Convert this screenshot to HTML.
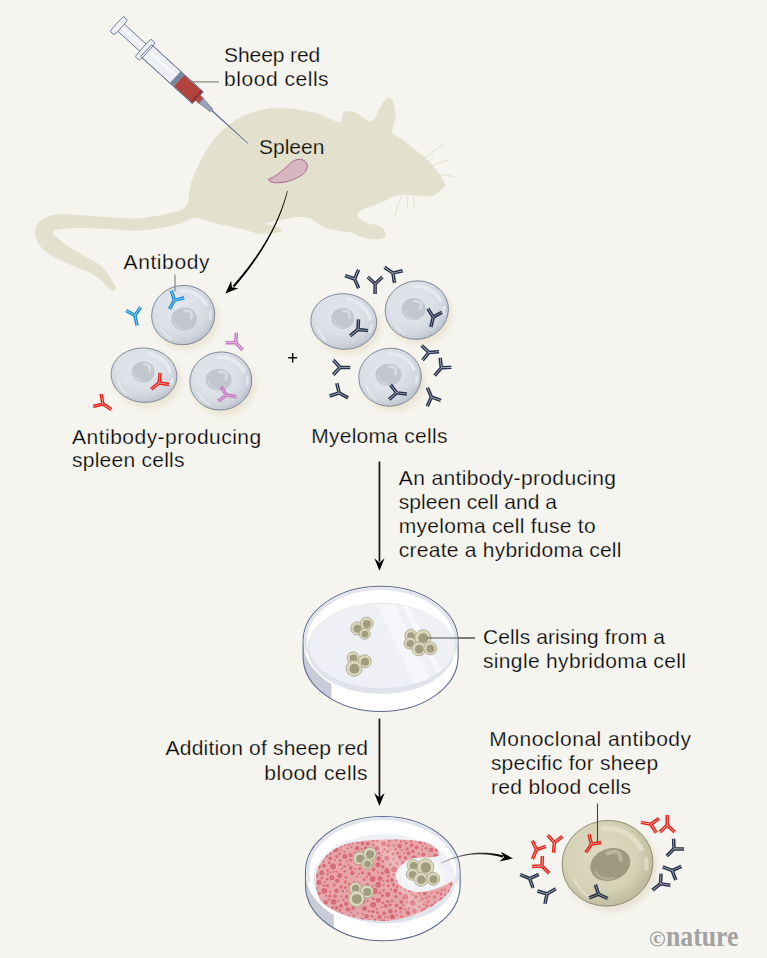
<!DOCTYPE html>
<html><head><meta charset="utf-8"><style>
html,body{margin:0;padding:0;background:#f5f4ee;}
body{width:767px;height:958px;overflow:hidden;}
svg{display:block;}
text{font-family:"Liberation Sans",sans-serif;fill:#000000;stroke:#f5f4ee;stroke-width:0.25px;}
</style></head><body>
<svg width="767" height="958" viewBox="0 0 767 958">
<defs>
<g id="ab" fill="none" stroke-width="1.5" stroke-linecap="butt"><path d="M-1.00,-0.30 L-1.00,10.20 M1.00,-0.30 L1.00,10.20 M0.32,-1.07 L-6.70,-7.62 M-1.05,0.39 L-8.07,-6.16 M1.05,0.39 L8.07,-6.16 M-0.32,-1.07 L6.70,-7.62"/></g>
<radialGradient id="cellg" cx="0.42" cy="0.38" r="0.62">
 <stop offset="0" stop-color="#e3e7ed"/>
 <stop offset="0.55" stop-color="#dce0e7"/>
 <stop offset="0.85" stop-color="#d0d5dd"/>
 <stop offset="1" stop-color="#bfc5cf"/>
</radialGradient>
<radialGradient id="olg" cx="0.45" cy="0.42" r="0.6">
 <stop offset="0" stop-color="#dedbc4"/>
 <stop offset="0.65" stop-color="#d6d2b6"/>
 <stop offset="1" stop-color="#bcb89b"/>
</radialGradient>
<linearGradient id="arrg" x1="0" y1="0" x2="1" y2="0">
 <stop offset="0" stop-color="#888"/>
 <stop offset="1" stop-color="#000"/>
</linearGradient>
<filter id="blur2" x="-30%" y="-30%" width="160%" height="160%"><feGaussianBlur stdDeviation="2.5"/></filter>
<filter id="soft" x="-20%" y="-20%" width="140%" height="140%"><feGaussianBlur stdDeviation="0.7"/></filter>
</defs>
<rect width="767" height="958" fill="#f5f4ee"/>

<path d="M186.8,205.0 C184.1,209.8 180.3,210.2 175.0,212.0 C169.7,213.8 161.7,214.9 155.0,216.0 C148.3,217.1 144.7,218.5 135.0,218.6 C125.3,218.7 109.0,217.2 96.7,216.5 C84.4,215.8 69.7,214.0 60.9,214.3 C52.1,214.7 47.8,216.7 43.7,218.6 C39.6,220.5 38.0,223.2 36.5,225.8 C35.0,228.4 34.9,231.9 35.0,234.4 C35.1,236.9 36.3,239.0 37.2,241.0 C38.1,243.0 38.5,244.4 40.5,246.5 C42.5,248.6 45.3,251.4 48.9,253.8 C52.5,256.2 57.6,258.8 62.2,261.0 C66.8,263.2 72.0,265.2 76.6,267.2 C81.2,269.1 86.0,270.7 89.9,272.7 C93.8,274.7 97.1,277.1 99.9,279.3 C102.7,281.5 104.7,284.3 106.5,286.0 C108.3,287.7 109.5,288.9 110.8,289.6 C112.0,290.3 113.2,290.7 114.0,290.2 C114.8,289.7 116.2,288.7 115.5,286.5 C114.8,284.3 111.8,280.1 109.8,277.1 C107.8,274.1 105.4,270.7 103.2,268.3 C101.0,265.9 99.3,264.6 96.5,262.7 C93.7,260.8 90.5,259.4 86.6,257.2 C82.7,255.0 77.4,252.0 73.3,249.4 C69.2,246.8 65.3,244.0 62.2,241.7 C59.1,239.4 56.0,237.1 54.5,235.5 C53.0,233.9 52.4,233.0 53.0,232.0 C53.6,231.0 54.3,230.1 58.0,229.4 C61.7,228.7 67.3,228.1 75.2,228.0 C83.1,227.9 95.3,228.2 105.3,228.7 C115.3,229.2 125.9,230.9 135.0,230.8 C144.1,230.7 152.5,229.2 160.0,228.0 C167.5,226.8 174.1,225.5 180.0,223.8 C185.9,222.1 189.7,218.0 195.3,217.9 C201.0,217.8 208.0,221.6 213.9,223.0 C219.8,224.4 225.7,225.3 230.8,226.4 C235.9,227.5 240.2,228.6 244.4,229.7 C248.7,230.8 252.9,232.4 256.3,233.1 C259.7,233.8 261.6,234.0 264.7,234.0 C267.8,234.0 272.1,233.7 274.9,233.1 C277.7,232.5 281.1,231.6 281.7,230.6 C282.3,229.6 280.9,228.3 278.3,227.2 C275.7,226.1 268.3,224.6 266.0,224.0 C263.7,223.4 262.1,224.3 264.7,223.6 C267.3,222.9 276.0,220.7 281.7,219.6 C287.4,218.5 293.8,217.2 298.6,217.0 C303.4,216.8 307.3,217.5 310.4,218.5 C313.5,219.5 314.4,221.4 317.0,223.0 C319.6,224.6 322.3,226.9 326.0,228.2 C329.7,229.5 334.7,230.0 339.1,230.8 C343.5,231.6 348.9,231.9 352.2,232.8 C355.5,233.7 356.1,235.0 358.7,236.0 C361.3,237.0 365.0,238.1 367.8,238.7 C370.6,239.2 373.0,239.4 375.6,239.3 C378.2,239.2 381.7,238.8 383.4,238.0 C385.1,237.2 386.0,236.3 386.0,234.8 C386.0,233.3 384.9,230.5 383.4,228.9 C381.9,227.3 379.7,226.0 376.9,225.0 C374.1,224.0 369.8,224.8 366.5,223.0 C363.2,221.2 356.5,216.7 357.4,213.9 C358.3,211.1 367.1,208.2 371.7,206.0 C376.2,203.8 381.6,202.3 384.7,200.9 C387.8,199.5 387.7,198.8 390.4,197.8 C393.1,196.8 397.4,195.1 400.9,194.7 C404.4,194.3 407.0,194.9 411.3,195.2 C415.6,195.4 422.9,196.3 426.9,196.2 C430.9,196.1 432.9,195.8 435.3,194.7 C437.7,193.6 439.9,190.9 441.5,189.5 C443.1,188.1 444.5,187.7 444.9,186.5 C445.3,185.3 445.2,184.8 444.1,182.5 C443.0,180.2 441.6,177.0 438.4,172.8 C435.2,168.7 429.4,162.0 424.8,157.6 C420.2,153.2 415.2,149.8 411.0,146.5 C406.8,143.2 403.0,140.5 399.8,138.1 C396.6,135.7 392.7,134.2 391.6,132.3 C390.5,130.5 392.7,130.1 393.4,127.0 C394.1,123.9 395.7,117.9 395.6,113.5 C395.5,109.1 393.8,103.2 392.6,100.6 C391.4,97.9 389.9,97.6 388.5,97.6 C387.1,97.6 386.1,98.4 384.5,100.5 C382.9,102.6 380.8,106.6 378.7,110.0 C376.6,113.4 375.1,120.5 371.6,121.1 C368.1,121.7 361.3,115.2 357.6,113.5 C353.9,111.8 351.8,111.1 349.3,111.1 C346.8,111.1 344.3,111.7 342.8,113.5 C341.3,115.3 342.7,121.3 340.5,122.2 C338.3,123.1 333.9,120.4 329.4,118.8 C324.9,117.2 321.0,114.3 313.5,112.5 C306.0,110.7 293.3,108.2 284.3,107.9 C275.3,107.6 267.4,108.5 259.3,110.4 C251.2,112.3 243.2,115.1 236.0,119.5 C228.8,123.9 221.7,130.6 216.0,137.0 C210.3,143.4 206.2,150.3 202.0,158.0 C197.8,165.7 193.5,175.2 191.0,183.0 C188.5,190.8 189.5,200.2 186.8,205.0Z" fill="#e3e0cd"/>
<g stroke="#e3e0cd" stroke-width="1" fill="none" stroke-linecap="round"><path d="M424.8,158.2 Q434,150 443.1,145.1"/><path d="M428,161.3 L433.7,158.2"/><path d="M432.1,166 Q441,162 449.9,159.7"/><path d="M438.9,174.8 Q446,175 453,176.4"/><path d="M401.9,195.2 Q397,205 394.6,216.6"/><path d="M407.6,196.2 L407.6,206.6"/><path d="M413.4,196.2 L414.4,207.2"/></g>
<path d="M268.5,179.2 C277,176.5 285,168 292.5,161.5 C299.5,156.8 308.5,160 307.2,167.8 C305.8,174.5 296,179.5 285.3,182 C277,183.5 269.5,183 268.5,179.2 Z" fill="#d8b6c0" stroke="#a45c8c" stroke-width="0.9"/>
<g transform="translate(118.8,25.6) rotate(42.4)">
 <rect x="1" y="-4.8" width="34" height="9.6" fill="#eceef4" stroke="#6a7796" stroke-width="0.9"/>
 <rect x="2" y="-1.6" width="32" height="1.6" fill="#f8f9fb"/>
 <path d="M-2.6,-9.8 Q0,-10.5 2.6,-9.6 L3.2,-5 L3.2,5 L2.6,9.6 Q0,10.5 -2.6,9.8 Q-3.6,0 -2.6,-9.8 Z" fill="#eef0f5" stroke="#6a7796" stroke-width="0.9"/>
 <rect x="37" y="-8" width="70" height="16" fill="#eceef4" stroke="#6a7796" stroke-width="0.9"/>
 <rect x="38" y="-2.4" width="38" height="1.8" fill="#f8f9fb"/>
 <path d="M33,-11.5 Q35.5,-12.6 38.5,-11.2 L39,-8 L39,8 L38.5,11.2 Q35.5,12.6 33,11.5 Q31.8,0 33,-11.5 Z" fill="#eef0f5" stroke="#6a7796" stroke-width="0.9"/>
 <rect x="76.5" y="-7.6" width="5" height="15.2" fill="#76859f"/>
 <rect x="81.5" y="-7.6" width="23.5" height="15.2" fill="#b0433d"/>
 <path d="M104,-7.6 L106.5,-7.6 Q107.6,0 106.5,7.6 L104,7.6 Q105.2,0 104,-7.6 Z" fill="#92322f"/>
 <rect x="37" y="-8" width="70" height="16" fill="none" stroke="#6a7796" stroke-width="0.9"/>
 <rect x="106.5" y="-3.4" width="5.2" height="6.8" fill="#b74a45" stroke="#8a3431" stroke-width="0.5"/>
 <path d="M111.5,-3.2 L125.5,-1.9 L125.5,1.9 L111.5,3.2 Z" fill="#98a1b8" stroke="#6e7a96" stroke-width="0.6"/>
 <path d="M125.5,-0.8 L175,-0.35 L175,0.35 L125.5,0.8 Z" fill="#5f6d8e"/>
</g>
<path d="M189.2,81.9 L218.9,81.9" stroke="#6e6e6e" stroke-width="1"/>
<path d="M287.06,191.01 L286.42,193.39 L285.73,195.77 L285.02,198.15 L284.26,200.53 L283.47,202.91 L282.64,205.28 L281.77,207.66 L280.87,210.03 L279.93,212.41 L278.96,214.78 L277.95,217.16 L276.90,219.53 L275.81,221.90 L274.69,224.27 L273.53,226.65 L272.34,229.02 L271.11,231.39 L269.84,233.76 L268.54,236.12 L267.19,238.49 L265.82,240.86 L264.40,243.23 L262.95,245.60 L261.46,247.96 L259.94,250.33 L258.38,252.70 L256.78,255.06 L255.14,257.43 L253.47,259.79 L251.77,262.15 L250.02,264.52 L248.24,266.88 L246.42,269.24 L244.57,271.61 L242.68,273.97 L240.75,276.33 L238.79,278.69 L236.78,281.05 L234.75,283.41 L232.67,285.78 L234.33,287.22 L236.39,284.83 L238.41,282.43 L240.39,280.03 L242.34,277.62 L244.25,275.22 L246.12,272.82 L247.96,270.42 L249.76,268.02 L251.52,265.62 L253.25,263.22 L254.93,260.82 L256.59,258.42 L258.20,256.02 L259.78,253.62 L261.32,251.21 L262.82,248.81 L264.28,246.41 L265.71,244.01 L267.10,241.61 L268.46,239.21 L269.77,236.80 L271.05,234.40 L272.30,232.00 L273.50,229.60 L274.67,227.20 L275.80,224.80 L276.89,222.40 L277.95,219.99 L278.97,217.59 L279.95,215.19 L280.90,212.79 L281.81,210.39 L282.68,207.99 L283.51,205.59 L284.31,203.19 L285.07,200.79 L285.79,198.39 L286.48,195.99 L287.13,193.59 L287.74,191.19Z" fill="#000"/>
<path d="M225.40,293.50 L231.15,280.71 L231.90,287.27 L238.42,288.30Z" fill="#000"/>
<rect x="378.6" y="461.5" width="1.7" height="100" fill="#111"/>
<path d="M379.45,570.70 L374.35,558.20 L379.45,562.70 L384.55,558.20Z" fill="#000"/>
<rect x="378.6" y="718.6" width="1.7" height="80" fill="#111"/>
<path d="M379.45,806.00 L374.20,793.00 L379.45,797.50 L384.70,793.00Z" fill="#000"/>
<path d="M427.6,638 L475,638" stroke="#555" stroke-width="1.1"/>
<ellipse cx="186.7" cy="319.6" rx="32.6" ry="30.6" fill="#ece6d6" transform="rotate(-10 186.7 319.6)" filter="url(#blur2)"/>
<ellipse cx="183.2" cy="315.1" rx="31.6" ry="29.6" fill="url(#cellg)" stroke="#7a8697" stroke-width="0.9" transform="rotate(-10 183.2 315.1)"/>
<g transform="rotate(-10 183.2 315.1)" fill="none" stroke="#e9ecf1" stroke-linecap="round" filter="url(#soft)"><path d="M184.8,290.8 Q202.8,293.8 207.8,309.2" stroke-width="3.5" opacity="0.9"/><path d="M210.4,316.6 L209.1,323.4" stroke-width="2.8" opacity="0.8"/><path d="M158.6,322.5 Q161.1,331.4 167.4,336.4" stroke-width="1.6" opacity="0.9"/></g>
<g transform="rotate(0 184.2 319)"><ellipse cx="184.2" cy="319" rx="13" ry="11.5" fill="#c2c7cf"/><path d="M184.8,310.7 Q193.9,310.4 191.3,318.4" fill="none" stroke="#d9dde3" stroke-width="2.6" stroke-linecap="round"/><path d="M173.8,320.1 Q175.1,327.6 182.9,328.8" fill="none" stroke="#d9dde3" stroke-width="1.3" stroke-linecap="round" opacity="0.7"/></g>
<ellipse cx="147.5" cy="379.7" rx="34" ry="28.2" fill="#ece6d6" transform="rotate(5 147.5 379.7)" filter="url(#blur2)"/>
<ellipse cx="144" cy="375.2" rx="33" ry="27.2" fill="url(#cellg)" stroke="#7a8697" stroke-width="0.9" transform="rotate(5 144 375.2)"/>
<g transform="rotate(5 144 375.2)" fill="none" stroke="#e9ecf1" stroke-linecap="round" filter="url(#soft)"><path d="M145.7,352.9 Q164.5,355.6 169.7,369.8" stroke-width="3.6" opacity="0.9"/><path d="M172.4,376.6 L171.1,382.8" stroke-width="3.0" opacity="0.8"/><path d="M118.3,382.0 Q120.9,390.2 127.5,394.8" stroke-width="1.7" opacity="0.9"/></g>
<g transform="rotate(0 143.2 372)"><ellipse cx="143.2" cy="372" rx="11.5" ry="10.5" fill="#c2c7cf"/><path d="M143.8,364.4 Q151.8,364.1 149.5,371.5" fill="none" stroke="#d9dde3" stroke-width="2.3" stroke-linecap="round"/><path d="M134.0,373.1 Q135.1,379.9 142.0,380.9" fill="none" stroke="#d9dde3" stroke-width="1.2" stroke-linecap="round" opacity="0.7"/></g>
<ellipse cx="224.3" cy="385.5" rx="32" ry="30" fill="#ece6d6" transform="rotate(-10 224.3 385.5)" filter="url(#blur2)"/>
<ellipse cx="220.8" cy="381" rx="31" ry="29" fill="url(#cellg)" stroke="#7a8697" stroke-width="0.9" transform="rotate(-10 220.8 381)"/>
<g transform="rotate(-10 220.8 381)" fill="none" stroke="#e9ecf1" stroke-linecap="round" filter="url(#soft)"><path d="M222.4,357.2 Q240.0,360.1 245.0,375.2" stroke-width="3.4" opacity="0.9"/><path d="M247.5,382.4 L246.2,389.1" stroke-width="2.8" opacity="0.8"/><path d="M196.6,388.2 Q199.1,396.9 205.3,401.9" stroke-width="1.6" opacity="0.9"/></g>
<g transform="rotate(0 218.6 379.7)"><ellipse cx="218.6" cy="379.7" rx="13" ry="11" fill="#c2c7cf"/><path d="M219.2,371.8 Q228.3,371.4 225.8,379.1" fill="none" stroke="#d9dde3" stroke-width="2.6" stroke-linecap="round"/><path d="M208.2,380.8 Q209.5,387.9 217.3,389.1" fill="none" stroke="#d9dde3" stroke-width="1.3" stroke-linecap="round" opacity="0.7"/></g>
<path d="M175,274.4 L175,291.6" stroke="#7a7a7a" stroke-width="1.1"/>
<use href="#ab" transform="translate(174.4,300.2) rotate(29) scale(1.0)" stroke="#1f93d6"/>
<use href="#ab" transform="translate(134.9,315.6) rotate(-13) scale(1.0)" stroke="#1f93d6"/>
<use href="#ab" transform="translate(235.7,342.7) rotate(-43) scale(1.0)" stroke="#c57bc1"/>
<use href="#ab" transform="translate(226.4,395.0) rotate(-80) scale(1.0)" stroke="#c57bc1"/>
<use href="#ab" transform="translate(159.2,382.9) rotate(52) scale(1.0)" stroke="#e8261e"/>
<use href="#ab" transform="translate(102.9,404.0) rotate(-57) scale(1.0)" stroke="#e8261e"/>
<ellipse cx="347.3" cy="326.0" rx="34" ry="28.8" fill="#ece6d6" transform="rotate(5 347.3 326.0)" filter="url(#blur2)"/>
<ellipse cx="343.8" cy="321.5" rx="33" ry="27.8" fill="url(#cellg)" stroke="#7a8697" stroke-width="0.9" transform="rotate(5 343.8 321.5)"/>
<g transform="rotate(5 343.8 321.5)" fill="none" stroke="#e9ecf1" stroke-linecap="round" filter="url(#soft)"><path d="M345.4,298.7 Q364.3,301.5 369.5,315.9" stroke-width="3.6" opacity="0.9"/><path d="M372.2,322.9 L370.9,329.3" stroke-width="3.0" opacity="0.8"/><path d="M318.1,328.4 Q320.7,336.8 327.3,341.5" stroke-width="1.7" opacity="0.9"/></g>
<g transform="rotate(0 342.8 318.4)"><ellipse cx="342.8" cy="318.4" rx="11.5" ry="10.5" fill="#c2c7cf"/><path d="M343.4,310.8 Q351.4,310.5 349.1,317.9" fill="none" stroke="#d9dde3" stroke-width="2.3" stroke-linecap="round"/><path d="M333.6,319.4 Q334.8,326.3 341.7,327.3" fill="none" stroke="#d9dde3" stroke-width="1.2" stroke-linecap="round" opacity="0.7"/></g>
<ellipse cx="420.3" cy="314.6" rx="32.7" ry="30.2" fill="#ece6d6" transform="rotate(-10 420.3 314.6)" filter="url(#blur2)"/>
<ellipse cx="416.8" cy="310.1" rx="31.7" ry="29.2" fill="url(#cellg)" stroke="#7a8697" stroke-width="0.9" transform="rotate(-10 416.8 310.1)"/>
<g transform="rotate(-10 416.8 310.1)" fill="none" stroke="#e9ecf1" stroke-linecap="round" filter="url(#soft)"><path d="M418.4,286.2 Q436.5,289.1 441.5,304.3" stroke-width="3.5" opacity="0.9"/><path d="M444.1,311.6 L442.8,318.3" stroke-width="2.9" opacity="0.8"/><path d="M392.1,317.4 Q394.6,326.2 400.9,331.1" stroke-width="1.6" opacity="0.9"/></g>
<g transform="rotate(0 413.7 309)"><ellipse cx="413.7" cy="309" rx="12" ry="11" fill="#c2c7cf"/><path d="M414.3,301.1 Q422.7,300.8 420.3,308.4" fill="none" stroke="#d9dde3" stroke-width="2.4" stroke-linecap="round"/><path d="M404.1,310.1 Q405.3,317.2 412.5,318.4" fill="none" stroke="#d9dde3" stroke-width="1.2" stroke-linecap="round" opacity="0.7"/></g>
<ellipse cx="393.5" cy="381.7" rx="32.3" ry="30" fill="#ece6d6" transform="rotate(-5 393.5 381.7)" filter="url(#blur2)"/>
<ellipse cx="390" cy="377.2" rx="31.3" ry="29" fill="url(#cellg)" stroke="#7a8697" stroke-width="0.9" transform="rotate(-5 390 377.2)"/>
<g transform="rotate(-5 390 377.2)" fill="none" stroke="#e9ecf1" stroke-linecap="round" filter="url(#soft)"><path d="M391.6,353.4 Q409.4,356.3 414.4,371.4" stroke-width="3.4" opacity="0.9"/><path d="M416.9,378.6 L415.7,385.3" stroke-width="2.8" opacity="0.8"/><path d="M365.6,384.4 Q368.1,393.1 374.4,398.1" stroke-width="1.6" opacity="0.9"/></g>
<g transform="rotate(0 388.4 374.7)"><ellipse cx="388.4" cy="374.7" rx="13" ry="11" fill="#c2c7cf"/><path d="M389.0,366.8 Q398.1,366.4 395.5,374.1" fill="none" stroke="#d9dde3" stroke-width="2.6" stroke-linecap="round"/><path d="M378.0,375.8 Q379.3,382.9 387.1,384.1" fill="none" stroke="#d9dde3" stroke-width="1.3" stroke-linecap="round" opacity="0.7"/></g>
<use href="#ab" transform="translate(354.6,278.9) rotate(-23.7) scale(1.0)" stroke="#27314b"/>
<use href="#ab" transform="translate(375.1,283.9) rotate(0) scale(1.0)" stroke="#27314b"/>
<use href="#ab" transform="translate(392.9,273.0) rotate(124) scale(1.0)" stroke="#27314b"/>
<use href="#ab" transform="translate(358.0,329.4) rotate(50) scale(1.0)" stroke="#27314b"/>
<use href="#ab" transform="translate(433.3,317.1) rotate(14) scale(1.0)" stroke="#27314b"/>
<use href="#ab" transform="translate(340.1,367.4) rotate(-90) scale(1.0)" stroke="#27314b"/>
<use href="#ab" transform="translate(339.2,392.9) rotate(-61) scale(1.0)" stroke="#27314b"/>
<use href="#ab" transform="translate(396.7,392.9) rotate(-84) scale(1.0)" stroke="#27314b"/>
<use href="#ab" transform="translate(428.9,352.4) rotate(-94) scale(1.0)" stroke="#27314b"/>
<use href="#ab" transform="translate(441.3,367.8) rotate(40.6) scale(1.0)" stroke="#27314b"/>
<use href="#ab" transform="translate(431.4,397.0) rotate(157) scale(1.0)" stroke="#27314b"/>
<clipPath id="side1"><path d="M303.1,641.3 A77.5,55 0 0 0 458.1,641.3 L458.1,656.5 A77.5,55 0 0 1 303.1,656.5 Z"/></clipPath>
<path d="M303.1,641.3 A77.5,55 0 0 0 458.1,641.3 L458.1,656.5 A77.5,55 0 0 1 303.1,656.5 Z" fill="#ffffff"/>
<rect x="302.1" y="641.3" width="29.3" height="72.2" fill="#c8ccd9" clip-path="url(#side1)"/>
<ellipse cx="380.6" cy="641.3" rx="77.5" ry="55" fill="#ffffff"/>
<path d="M303.1,641.3 A77.5,55 0 0 1 458.1,641.3 L458.1,656.5 A77.5,55 0 0 1 303.1,656.5 Z" fill="none" stroke="#5f6b8c" stroke-width="1.1"/>
<path d="M306.95,652.28 A75.3,52.8 0 1 1 454.25,652.28" fill="none" stroke="#e2e5ec" stroke-width="3.2"/>
<ellipse cx="381.3" cy="648.5" rx="73.6" ry="45.5" fill="#dfe2ea"/>
<ellipse cx="381.8" cy="646" rx="72.8" ry="42.3" fill="#eef0f5"/>
<clipPath id="fl1"><ellipse cx="381.8" cy="646" rx="72.8" ry="42.3"/></clipPath>
<g clip-path="url(#fl1)"><path d="M375,600 L393,600 L440,700 L422,700 Z" fill="#f5f6f9"/><path d="M399,600 L405,600 L452,690 L446,690 Z" fill="#f7f8fb"/></g>
<circle cx="357.2" cy="628.4" r="6.5" fill="#dbd7bc" stroke="#a29f83" stroke-width="0.75"/>
<circle cx="357.5" cy="628.8" r="4.03" fill="#9f9c80"/>
<circle cx="366.6" cy="623.7" r="6.5" fill="#dbd7bc" stroke="#a29f83" stroke-width="0.75"/>
<circle cx="366.90000000000003" cy="624.1" r="4.03" fill="#9f9c80"/>
<circle cx="364.7" cy="633.8" r="5.5" fill="#dbd7bc" stroke="#a29f83" stroke-width="0.75"/>
<circle cx="365.0" cy="634.1999999999999" r="3.41" fill="#9f9c80"/>
<circle cx="353.2" cy="657.8" r="6" fill="#dbd7bc" stroke="#a29f83" stroke-width="0.75"/>
<circle cx="353.5" cy="658.1999999999999" r="3.72" fill="#9f9c80"/>
<circle cx="364.7" cy="661.3" r="6.5" fill="#dbd7bc" stroke="#a29f83" stroke-width="0.75"/>
<circle cx="365.0" cy="661.6999999999999" r="4.03" fill="#9f9c80"/>
<circle cx="354.1" cy="668.3" r="8" fill="#dbd7bc" stroke="#a29f83" stroke-width="0.75"/>
<circle cx="354.40000000000003" cy="668.6999999999999" r="4.96" fill="#9f9c80"/>
<circle cx="410.7" cy="635.5" r="6" fill="#dbd7bc" stroke="#a29f83" stroke-width="0.75"/>
<circle cx="411.0" cy="635.9" r="3.72" fill="#9f9c80"/>
<circle cx="422.9" cy="637.8" r="8" fill="#dbd7bc" stroke="#a29f83" stroke-width="0.75"/>
<circle cx="423.2" cy="638.1999999999999" r="4.96" fill="#9f9c80"/>
<circle cx="410" cy="643.2" r="6" fill="#dbd7bc" stroke="#a29f83" stroke-width="0.75"/>
<circle cx="410.3" cy="643.6" r="3.72" fill="#9f9c80"/>
<circle cx="418.9" cy="648.8" r="7" fill="#dbd7bc" stroke="#a29f83" stroke-width="0.75"/>
<circle cx="419.2" cy="649.1999999999999" r="4.34" fill="#9f9c80"/>
<circle cx="430.2" cy="648.4" r="6.5" fill="#dbd7bc" stroke="#a29f83" stroke-width="0.75"/>
<circle cx="430.5" cy="648.8" r="4.03" fill="#9f9c80"/>
<path d="M427.6,638 L475,638" stroke="#555" stroke-width="1.1"/>
<clipPath id="side2"><path d="M305.5,872 A77.3,55.5 0 0 0 460.1,872 L460.1,885.3 A77.3,55.5 0 0 1 305.5,885.3 Z"/></clipPath>
<path d="M305.5,872 A77.3,55.5 0 0 0 460.1,872 L460.1,885.3 A77.3,55.5 0 0 1 305.5,885.3 Z" fill="#ffffff"/>
<rect x="304.5" y="872" width="29.3" height="70.8" fill="#c8ccd9" clip-path="url(#side2)"/>
<ellipse cx="382.8" cy="872" rx="77.3" ry="55.5" fill="#ffffff"/>
<path d="M305.5,872 A77.3,55.5 0 0 1 460.1,872 L460.1,885.3 A77.3,55.5 0 0 1 305.5,885.3 Z" fill="none" stroke="#5f6b8c" stroke-width="1.1"/>
<path d="M309.34,883.08 A75.1,53.3 0 1 1 456.26,883.08" fill="none" stroke="#e2e5ec" stroke-width="3.2"/>
<ellipse cx="384.5" cy="879" rx="71" ry="44.5" fill="#dfe2ea"/>
<ellipse cx="385" cy="876.5" rx="70" ry="42" fill="#eef0f5"/>
<clipPath id="bl"><path d="M316,880 C316,862 330,848 350,843 C370,839 400,838.5 420,841.5 C432,843 440,850 439,855 C436,858 425,857 413,858 C402,862 395,870 396,877 C397,886 408,892 420,892 C432,892 445,885 453,881 C452,890 445,898 438,902 C425,912 405,920 385,921 C355,921 330,912 320,900 C317,894 316,887 316,880 Z"/></clipPath>
<path d="M316,880 C316,862 330,848 350,843 C370,839 400,838.5 420,841.5 C432,843 440,850 439,855 C436,858 425,857 413,858 C402,862 395,870 396,877 C397,886 408,892 420,892 C432,892 445,885 453,881 C452,890 445,898 438,902 C425,912 405,920 385,921 C355,921 330,912 320,900 C317,894 316,887 316,880 Z" fill="#e7a6a9"/>
<g fill="#d76d76" clip-path="url(#bl)"><circle cx="378.2" cy="884.7" r="2.9"/><circle cx="341.0" cy="905.9" r="1.9"/><circle cx="403.4" cy="905.0" r="1.0"/><circle cx="377.4" cy="848.3" r="2.2"/><circle cx="429.0" cy="896.3" r="1.0"/><circle cx="378.3" cy="900.3" r="2.5"/><circle cx="389.0" cy="841.2" r="1.3"/><circle cx="397.9" cy="853.0" r="1.3"/><circle cx="346.6" cy="861.1" r="1.0"/><circle cx="394.0" cy="845.4" r="1.0"/><circle cx="324.4" cy="890.8" r="2.9"/><circle cx="372.2" cy="916.3" r="1.3"/><circle cx="349.0" cy="844.8" r="1.0"/><circle cx="380.0" cy="878.4" r="2.5"/><circle cx="393.4" cy="874.9" r="1.3"/><circle cx="373.5" cy="869.4" r="1.9"/><circle cx="373.7" cy="854.5" r="1.6"/><circle cx="395.9" cy="839.7" r="1.3"/><circle cx="400.7" cy="908.2" r="1.9"/><circle cx="366.4" cy="890.1" r="1.3"/><circle cx="395.6" cy="911.4" r="1.3"/><circle cx="403.1" cy="863.0" r="1.3"/><circle cx="430.1" cy="857.7" r="1.3"/><circle cx="336.5" cy="890.7" r="2.2"/><circle cx="373.8" cy="845.0" r="1.0"/><circle cx="386.8" cy="858.2" r="2.5"/><circle cx="414.1" cy="858.4" r="2.9"/><circle cx="387.9" cy="916.8" r="1.0"/><circle cx="331.9" cy="877.7" r="2.5"/><circle cx="353.8" cy="915.8" r="1.3"/><circle cx="420.4" cy="842.0" r="1.9"/><circle cx="377.3" cy="841.3" r="1.3"/><circle cx="354.0" cy="882.2" r="1.3"/><circle cx="377.9" cy="864.8" r="2.5"/><circle cx="441.8" cy="900.1" r="2.5"/><circle cx="362.5" cy="843.4" r="1.9"/><circle cx="373.2" cy="904.8" r="2.9"/><circle cx="385.0" cy="837.3" r="2.5"/><circle cx="330.4" cy="858.4" r="1.9"/><circle cx="376.6" cy="908.9" r="1.0"/><circle cx="387.7" cy="880.8" r="1.6"/><circle cx="346.7" cy="896.8" r="1.9"/><circle cx="424.8" cy="893.4" r="1.9"/><circle cx="356.7" cy="895.0" r="1.3"/><circle cx="387.6" cy="901.6" r="1.6"/><circle cx="408.6" cy="853.3" r="1.9"/><circle cx="428.1" cy="901.7" r="1.3"/><circle cx="396.8" cy="863.5" r="1.3"/><circle cx="333.1" cy="866.5" r="2.9"/><circle cx="387.8" cy="894.5" r="2.5"/><circle cx="353.5" cy="888.9" r="2.5"/><circle cx="357.9" cy="904.9" r="1.0"/><circle cx="347.7" cy="848.3" r="1.0"/><circle cx="346.2" cy="903.7" r="2.2"/><circle cx="401.3" cy="901.8" r="1.9"/><circle cx="434.5" cy="896.9" r="1.3"/><circle cx="416.6" cy="847.3" r="1.9"/><circle cx="342.0" cy="913.2" r="1.0"/><circle cx="367.5" cy="885.5" r="2.2"/><circle cx="379.8" cy="892.7" r="1.3"/><circle cx="390.2" cy="904.8" r="1.6"/><circle cx="351.2" cy="898.5" r="1.0"/><circle cx="362.6" cy="872.7" r="1.6"/><circle cx="319.0" cy="882.4" r="2.5"/><circle cx="425.9" cy="848.2" r="1.3"/><circle cx="345.4" cy="881.8" r="1.6"/><circle cx="337.3" cy="880.7" r="2.2"/><circle cx="357.2" cy="848.3" r="2.2"/><circle cx="388.4" cy="885.9" r="1.3"/><circle cx="399.9" cy="838.4" r="1.0"/><circle cx="387.3" cy="870.9" r="2.9"/><circle cx="388.5" cy="845.4" r="1.9"/><circle cx="401.7" cy="916.5" r="1.3"/><circle cx="328.9" cy="899.6" r="1.0"/><circle cx="415.9" cy="897.0" r="1.9"/><circle cx="390.4" cy="911.2" r="2.2"/><circle cx="435.7" cy="856.2" r="2.5"/><circle cx="369.1" cy="873.8" r="1.9"/><circle cx="371.2" cy="895.6" r="1.0"/><circle cx="327.6" cy="885.6" r="1.6"/><circle cx="432.3" cy="905.8" r="1.9"/><circle cx="382.3" cy="852.5" r="1.0"/><circle cx="404.0" cy="839.6" r="1.3"/><circle cx="339.7" cy="875.5" r="2.5"/><circle cx="366.6" cy="916.2" r="2.2"/><circle cx="414.1" cy="910.9" r="2.5"/><circle cx="341.1" cy="886.9" r="1.6"/><circle cx="412.7" cy="902.8" r="2.9"/><circle cx="339.8" cy="854.0" r="1.3"/><circle cx="324.0" cy="865.7" r="1.9"/><circle cx="344.7" cy="871.3" r="1.3"/><circle cx="405.2" cy="897.0" r="2.9"/><circle cx="341.8" cy="868.7" r="1.0"/><circle cx="350.7" cy="860.0" r="1.6"/><circle cx="394.7" cy="922.6" r="2.5"/><circle cx="411.2" cy="840.6" r="1.6"/><circle cx="399.7" cy="846.0" r="2.2"/><circle cx="365.6" cy="848.2" r="1.9"/><circle cx="378.7" cy="858.8" r="2.2"/><circle cx="419.6" cy="906.9" r="1.3"/><circle cx="365.0" cy="859.6" r="2.5"/><circle cx="352.5" cy="873.0" r="2.2"/><circle cx="336.8" cy="856.4" r="1.6"/><circle cx="382.7" cy="866.8" r="1.6"/><circle cx="362.8" cy="900.8" r="2.9"/><circle cx="437.5" cy="905.8" r="1.9"/><circle cx="423.2" cy="854.5" r="1.9"/><circle cx="335.4" cy="849.4" r="2.9"/><circle cx="391.9" cy="900.9" r="1.3"/><circle cx="365.4" cy="867.8" r="1.6"/><circle cx="418.7" cy="914.2" r="1.0"/><circle cx="362.0" cy="920.2" r="2.5"/><circle cx="367.7" cy="843.8" r="1.9"/><circle cx="450.0" cy="891.7" r="2.2"/><circle cx="365.4" cy="836.9" r="1.0"/><circle cx="396.9" cy="915.1" r="1.0"/><circle cx="358.4" cy="853.2" r="1.6"/><circle cx="344.9" cy="856.5" r="2.5"/><circle cx="340.3" cy="860.5" r="1.3"/><circle cx="423.9" cy="904.5" r="1.0"/><circle cx="372.7" cy="879.0" r="2.9"/><circle cx="411.6" cy="845.2" r="1.9"/><circle cx="431.8" cy="892.9" r="1.0"/><circle cx="423.6" cy="910.5" r="2.9"/><circle cx="335.0" cy="896.1" r="1.9"/><circle cx="362.6" cy="892.6" r="1.0"/><circle cx="393.1" cy="853.8" r="1.6"/><circle cx="364.1" cy="879.5" r="1.3"/><circle cx="395.9" cy="896.6" r="1.6"/><circle cx="393.6" cy="884.8" r="1.6"/><circle cx="333.6" cy="901.8" r="2.9"/><circle cx="336.5" cy="871.8" r="1.0"/><circle cx="371.6" cy="865.3" r="1.3"/><circle cx="383.0" cy="922.5" r="2.9"/><circle cx="356.5" cy="864.3" r="1.0"/><circle cx="342.7" cy="891.0" r="1.3"/><circle cx="408.0" cy="912.9" r="2.2"/><circle cx="377.7" cy="912.6" r="1.6"/><circle cx="321.7" cy="873.0" r="2.5"/><circle cx="326.2" cy="855.8" r="1.6"/><circle cx="344.6" cy="866.2" r="1.3"/><circle cx="383.6" cy="890.5" r="1.3"/><circle cx="373.5" cy="840.1" r="1.6"/><circle cx="344.9" cy="845.0" r="1.0"/><circle cx="368.9" cy="911.3" r="1.3"/><circle cx="347.3" cy="891.0" r="1.0"/><circle cx="359.9" cy="868.5" r="1.6"/><circle cx="351.2" cy="894.1" r="1.3"/><circle cx="362.5" cy="914.1" r="1.0"/><circle cx="391.1" cy="889.3" r="1.0"/><circle cx="353.2" cy="908.2" r="1.9"/><circle cx="350.7" cy="855.1" r="2.2"/><circle cx="369.9" cy="856.8" r="1.9"/><circle cx="434.6" cy="902.6" r="1.0"/><circle cx="370.3" cy="849.6" r="1.3"/><circle cx="431.1" cy="849.9" r="2.2"/><circle cx="340.1" cy="910.5" r="1.3"/><circle cx="432.3" cy="910.4" r="1.3"/><circle cx="437.5" cy="892.5" r="1.3"/><circle cx="357.9" cy="842.8" r="1.3"/><circle cx="318.6" cy="866.6" r="2.2"/><circle cx="441.7" cy="890.3" r="1.0"/><circle cx="344.3" cy="851.7" r="1.0"/><circle cx="397.6" cy="886.4" r="1.6"/><circle cx="375.1" cy="919.8" r="1.3"/><circle cx="390.2" cy="864.5" r="1.6"/><circle cx="383.5" cy="843.7" r="2.5"/><circle cx="451.8" cy="884.7" r="1.9"/><circle cx="358.8" cy="890.8" r="1.6"/><circle cx="346.0" cy="877.5" r="1.3"/><circle cx="412.7" cy="894.5" r="1.3"/><circle cx="400.0" cy="920.4" r="1.0"/><circle cx="408.2" cy="920.4" r="1.9"/><circle cx="334.4" cy="885.1" r="1.3"/><circle cx="405.3" cy="909.7" r="1.0"/><circle cx="369.3" cy="862.1" r="1.3"/><circle cx="350.7" cy="868.0" r="1.9"/><circle cx="327.8" cy="870.5" r="1.3"/><circle cx="392.4" cy="916.7" r="2.5"/><circle cx="364.5" cy="908.4" r="2.5"/><circle cx="366.4" cy="864.2" r="1.0"/><circle cx="393.6" cy="858.8" r="1.0"/><circle cx="382.3" cy="895.7" r="1.6"/><circle cx="341.4" cy="896.3" r="1.0"/><circle cx="419.0" cy="853.8" r="1.0"/><circle cx="381.6" cy="907.2" r="1.0"/><circle cx="415.5" cy="918.3" r="1.3"/><circle cx="400.9" cy="841.5" r="1.0"/><circle cx="410.2" cy="890.1" r="2.5"/><circle cx="358.5" cy="884.3" r="1.9"/><circle cx="362.6" cy="853.1" r="1.3"/><circle cx="348.7" cy="916.0" r="1.0"/><circle cx="351.9" cy="903.1" r="1.0"/><circle cx="357.0" cy="876.4" r="1.0"/><circle cx="348.3" cy="864.5" r="1.0"/><circle cx="392.2" cy="836.2" r="1.9"/><circle cx="407.3" cy="848.9" r="1.6"/><circle cx="413.0" cy="851.3" r="1.6"/><circle cx="444.9" cy="889.5" r="1.0"/><circle cx="399.8" cy="857.1" r="1.6"/><circle cx="388.3" cy="921.0" r="1.3"/><circle cx="394.0" cy="869.3" r="2.9"/><circle cx="405.4" cy="888.9" r="1.3"/><circle cx="422.1" cy="898.8" r="1.0"/><circle cx="354.7" cy="852.6" r="1.0"/><circle cx="367.7" cy="901.0" r="1.0"/><circle cx="422.7" cy="845.8" r="1.0"/><circle cx="401.6" cy="850.1" r="1.0"/><circle cx="330.0" cy="891.8" r="1.0"/><circle cx="385.8" cy="905.9" r="1.9"/><circle cx="347.9" cy="909.4" r="2.2"/><circle cx="349.3" cy="884.0" r="1.6"/><circle cx="405.3" cy="857.9" r="1.6"/><circle cx="341.2" cy="846.4" r="1.0"/><circle cx="316.1" cy="875.4" r="2.2"/><circle cx="395.5" cy="890.7" r="2.2"/><circle cx="336.6" cy="907.9" r="1.9"/><circle cx="441.1" cy="894.2" r="1.3"/><circle cx="357.6" cy="912.9" r="1.0"/><circle cx="379.6" cy="916.9" r="2.2"/><circle cx="338.7" cy="900.7" r="1.0"/><circle cx="359.0" cy="873.9" r="1.0"/><circle cx="379.3" cy="837.3" r="2.2"/><circle cx="370.3" cy="837.0" r="1.6"/><circle cx="419.7" cy="900.7" r="1.0"/><circle cx="445.4" cy="895.0" r="1.0"/><circle cx="352.6" cy="843.4" r="1.0"/><circle cx="400.5" cy="912.1" r="1.0"/><circle cx="323.5" cy="861.7" r="1.0"/><circle cx="356.5" cy="859.4" r="2.9"/><circle cx="427.0" cy="906.0" r="1.3"/><circle cx="351.4" cy="912.6" r="1.0"/><circle cx="374.9" cy="891.0" r="2.9"/><circle cx="323.8" cy="885.6" r="1.3"/><circle cx="400.4" cy="893.3" r="1.6"/><circle cx="419.3" cy="893.2" r="1.0"/><circle cx="390.6" cy="849.5" r="1.0"/><circle cx="326.2" cy="895.7" r="1.0"/><circle cx="366.8" cy="877.0" r="1.0"/><circle cx="329.8" cy="896.0" r="1.6"/><circle cx="324.9" cy="881.9" r="1.0"/><circle cx="421.8" cy="849.5" r="1.0"/><circle cx="340.0" cy="864.4" r="1.6"/><circle cx="327.1" cy="879.3" r="1.3"/><circle cx="384.0" cy="913.2" r="1.9"/><circle cx="316.7" cy="888.3" r="1.3"/><circle cx="392.1" cy="880.0" r="1.9"/><circle cx="362.6" cy="889.2" r="1.0"/><circle cx="355.4" cy="869.2" r="1.0"/><circle cx="359.9" cy="864.5" r="1.0"/><circle cx="319.2" cy="893.3" r="1.6"/><circle cx="361.6" cy="849.0" r="1.0"/><circle cx="387.7" cy="851.4" r="1.6"/><circle cx="436.6" cy="849.8" r="1.6"/><circle cx="356.9" cy="919.1" r="1.0"/><circle cx="396.4" cy="905.3" r="1.9"/><circle cx="382.9" cy="861.3" r="1.3"/><circle cx="343.3" cy="899.8" r="1.3"/><circle cx="381.9" cy="855.5" r="1.0"/><circle cx="395.7" cy="848.9" r="1.0"/><circle cx="383.0" cy="902.7" r="1.3"/><circle cx="372.5" cy="886.6" r="1.0"/><circle cx="325.7" cy="902.2" r="2.2"/><circle cx="415.6" cy="840.3" r="1.3"/><circle cx="388.2" cy="876.2" r="1.3"/><circle cx="384.3" cy="849.6" r="1.3"/><circle cx="383.7" cy="881.0" r="1.0"/><circle cx="383.7" cy="885.3" r="1.0"/><circle cx="382.2" cy="873.2" r="1.6"/><circle cx="369.0" cy="920.3" r="1.0"/><circle cx="406.1" cy="842.9" r="1.3"/><circle cx="330.3" cy="853.6" r="1.3"/><circle cx="379.1" cy="853.1" r="1.3"/><circle cx="332.5" cy="907.4" r="1.3"/><circle cx="404.2" cy="852.8" r="1.0"/><circle cx="441.3" cy="853.2" r="1.0"/><circle cx="422.1" cy="915.5" r="1.0"/><circle cx="384.9" cy="917.3" r="1.0"/><circle cx="397.0" cy="881.1" r="1.3"/><circle cx="345.4" cy="887.5" r="1.6"/><circle cx="409.0" cy="908.6" r="1.3"/><circle cx="333.5" cy="871.7" r="1.0"/><circle cx="373.0" cy="911.3" r="1.6"/><circle cx="367.4" cy="896.1" r="1.6"/><circle cx="334.9" cy="860.3" r="1.0"/><circle cx="448.2" cy="896.2" r="1.0"/><circle cx="359.9" cy="839.0" r="1.0"/><circle cx="321.8" cy="878.2" r="1.3"/><circle cx="330.6" cy="872.2" r="1.0"/><circle cx="426.3" cy="897.7" r="1.0"/><circle cx="373.5" cy="898.8" r="1.3"/><circle cx="351.4" cy="846.9" r="1.0"/><circle cx="355.1" cy="902.2" r="1.3"/><circle cx="401.0" cy="887.6" r="1.0"/><circle cx="407.0" cy="902.0" r="1.3"/><circle cx="424.8" cy="843.1" r="1.0"/><circle cx="378.1" cy="872.3" r="1.0"/><circle cx="327.6" cy="874.1" r="1.3"/><circle cx="329.2" cy="862.9" r="1.3"/><circle cx="340.4" cy="849.8" r="1.0"/></g>
<path d="M372,838 L386,836 L430,918 L415,921 Z" fill="#ffffff" opacity="0.18"/>
<ellipse cx="423" cy="875" rx="22" ry="13" fill="#f7f8fb" filter="url(#blur2)"/>
<circle cx="359.8" cy="858.3" r="6.5" fill="#dbd7bc" stroke="#a29f83" stroke-width="0.75"/>
<circle cx="360.1" cy="858.6999999999999" r="4.03" fill="#9f9c80"/>
<circle cx="369.8" cy="853.9" r="6.5" fill="#dbd7bc" stroke="#a29f83" stroke-width="0.75"/>
<circle cx="370.1" cy="854.3" r="4.03" fill="#9f9c80"/>
<circle cx="367.2" cy="863.6" r="5.5" fill="#dbd7bc" stroke="#a29f83" stroke-width="0.75"/>
<circle cx="367.5" cy="864.0" r="3.41" fill="#9f9c80"/>
<circle cx="355.4" cy="888" r="6" fill="#dbd7bc" stroke="#a29f83" stroke-width="0.75"/>
<circle cx="355.7" cy="888.4" r="3.72" fill="#9f9c80"/>
<circle cx="367" cy="891.6" r="6.5" fill="#dbd7bc" stroke="#a29f83" stroke-width="0.75"/>
<circle cx="367.3" cy="892.0" r="4.03" fill="#9f9c80"/>
<circle cx="356.5" cy="898.7" r="8" fill="#dbd7bc" stroke="#a29f83" stroke-width="0.75"/>
<circle cx="356.8" cy="899.1" r="4.96" fill="#9f9c80"/>
<circle cx="413.3" cy="865.5" r="6.1" fill="#dbd7bc" stroke="#a29f83" stroke-width="0.75"/>
<circle cx="413.6" cy="865.9" r="3.78" fill="#9f9c80"/>
<circle cx="425.5" cy="867.1" r="8.3" fill="#dbd7bc" stroke="#a29f83" stroke-width="0.75"/>
<circle cx="425.8" cy="867.5" r="5.15" fill="#9f9c80"/>
<circle cx="412.2" cy="874.3" r="6" fill="#dbd7bc" stroke="#a29f83" stroke-width="0.75"/>
<circle cx="412.5" cy="874.6999999999999" r="3.72" fill="#9f9c80"/>
<circle cx="421" cy="879.3" r="7" fill="#dbd7bc" stroke="#a29f83" stroke-width="0.75"/>
<circle cx="421.3" cy="879.6999999999999" r="4.34" fill="#9f9c80"/>
<circle cx="433.2" cy="878.8" r="6.5" fill="#dbd7bc" stroke="#a29f83" stroke-width="0.75"/>
<circle cx="433.5" cy="879.1999999999999" r="4.03" fill="#9f9c80"/>
<path d="M441.11,863.52 L442.67,862.79 L444.22,862.10 L445.78,861.43 L447.33,860.79 L448.88,860.18 L450.43,859.60 L451.98,859.05 L453.54,858.53 L455.08,858.04 L456.63,857.58 L458.18,857.15 L459.73,856.75 L461.27,856.38 L462.82,856.04 L464.36,855.73 L465.91,855.45 L467.45,855.20 L468.99,854.98 L470.53,854.78 L472.07,854.62 L473.61,854.49 L475.15,854.39 L476.69,854.31 L478.22,854.27 L479.76,854.25 L481.30,854.27 L482.83,854.31 L484.36,854.39 L485.90,854.49 L487.43,854.62 L488.96,854.78 L490.49,854.98 L492.02,855.20 L493.55,855.45 L495.08,855.73 L496.60,856.03 L498.13,856.37 L499.66,856.74 L501.18,857.14 L502.71,857.56 L503.29,855.44 L501.72,855.04 L500.14,854.68 L498.57,854.35 L497.00,854.04 L495.42,853.77 L493.85,853.53 L492.28,853.31 L490.71,853.13 L489.14,852.98 L487.57,852.85 L486.00,852.76 L484.44,852.70 L482.87,852.67 L481.30,852.66 L479.74,852.69 L478.18,852.75 L476.61,852.84 L475.05,852.95 L473.49,853.10 L471.93,853.28 L470.37,853.49 L468.81,853.72 L467.25,853.99 L465.69,854.29 L464.14,854.61 L462.58,854.97 L461.03,855.36 L459.47,855.77 L457.92,856.22 L456.37,856.69 L454.82,857.20 L453.26,857.73 L451.72,858.30 L450.17,858.89 L448.62,859.52 L447.07,860.17 L445.52,860.85 L443.98,861.56 L442.43,862.30 L440.89,863.08Z" fill="url(#arrg)"/>
<path d="M513.00,858.50 L499.40,861.52 L504.10,857.16 L500.89,851.63Z" fill="#000"/>
<ellipse cx="611.0" cy="867.8" rx="46.5" ry="43.8" fill="#e9e4d6" transform="rotate(-10 611.0 867.8)" filter="url(#blur2)"/>
<ellipse cx="607.5" cy="863.3" rx="45.5" ry="42.8" fill="url(#olg)" stroke="#8f8c72" stroke-width="0.9" transform="rotate(-10 607.5 863.3)"/>
<g transform="rotate(-10 607.5 863.3)" fill="none" stroke="#e3e0c9" stroke-linecap="round" filter="url(#soft)"><path d="M609.8,828.2 Q635.7,832.5 643.0,854.7" stroke-width="5.0" opacity="0.9"/><path d="M646.6,865.4 L644.8,875.3" stroke-width="4.1" opacity="0.8"/><path d="M572.0,874.0 Q575.6,886.8 584.8,894.1" stroke-width="2.3" opacity="0.9"/></g>
<g transform="rotate(-20 610.3 864.5)"><ellipse cx="610.3" cy="864.5" rx="20.5" ry="16" fill="#9d9a80"/><path d="M611.3,853.0 Q625.7,852.5 621.6,863.7" fill="none" stroke="#b9b69e" stroke-width="4.1" stroke-linecap="round"/><path d="M593.9,866.1 Q595.9,876.5 608.2,878.1" fill="none" stroke="#b9b69e" stroke-width="2.1" stroke-linecap="round" opacity="0.7"/></g>
<path d="M597.5,803.6 L597.5,842.2" stroke="#444" stroke-width="1.1"/>
<use href="#ab" transform="translate(591.4,844.1) rotate(33.4) scale(1.0)" stroke="#e8261e"/>
<use href="#ab" transform="translate(598.5,894.2) rotate(-65) scale(1.0)" stroke="#27314b"/>
<use href="#ab" transform="translate(536.4,849.8) rotate(23) scale(1.0)" stroke="#e8261e"/>
<use href="#ab" transform="translate(554.4,842.6) rotate(5) scale(1.0)" stroke="#e8261e"/>
<use href="#ab" transform="translate(542.0,866.1) rotate(-45) scale(1.0)" stroke="#e8261e"/>
<use href="#ab" transform="translate(529.6,878.5) rotate(113) scale(1.0)" stroke="#27314b"/>
<use href="#ab" transform="translate(547.1,893.9) rotate(-120.6) scale(1.0)" stroke="#27314b"/>
<use href="#ab" transform="translate(650.9,824.3) rotate(101) scale(1.0)" stroke="#e8261e"/>
<use href="#ab" transform="translate(667.2,825.2) rotate(180) scale(1.0)" stroke="#e8261e"/>
<use href="#ab" transform="translate(674.0,848.8) rotate(44.6) scale(1.0)" stroke="#27314b"/>
<use href="#ab" transform="translate(672.2,870.6) rotate(112) scale(1.0)" stroke="#27314b"/>
<use href="#ab" transform="translate(660.4,883.8) rotate(51) scale(1.0)" stroke="#27314b"/>
<text x="224.1" y="61.9" font-size="21" textLength="96.2" lengthAdjust="spacing">Sheep red</text>
<text x="224.1" y="85.9" font-size="21" textLength="104.5" lengthAdjust="spacing">blood cells</text>
<text style="stroke:#e3e0cd" x="258.9" y="154.1" font-size="21" textLength="65.5" lengthAdjust="spacing">Spleen</text>
<text x="123.6" y="268.7" font-size="21" textLength="85.8" lengthAdjust="spacing">Antibody</text>
<text x="72" y="443.5" font-size="21" textLength="189.2" lengthAdjust="spacing">Antibody-producing</text>
<text x="72" y="466.5" font-size="21" textLength="112.5" lengthAdjust="spacing">spleen cells</text>
<text x="311.2" y="442.5" font-size="21" textLength="136.2" lengthAdjust="spacing">Myeloma cells</text>
<text x="398.8" y="484.8" font-size="21" textLength="217.2" lengthAdjust="spacing">An antibody-producing</text>
<text x="398.8" y="509.2" font-size="21" textLength="158.2" lengthAdjust="spacing">spleen cell and a</text>
<text x="398.8" y="533" font-size="21" textLength="196.8" lengthAdjust="spacing">myeloma cell fuse to</text>
<text x="398.8" y="557.4" font-size="21" textLength="222.6" lengthAdjust="spacing">create a hybridoma cell</text>
<text x="483" y="643.7" font-size="21" textLength="181.9" lengthAdjust="spacing">Cells arising from a</text>
<text x="483" y="667.5" font-size="21" textLength="202.9" lengthAdjust="spacing">single hybridoma cell</text>
<text x="165.6" y="755" font-size="21" textLength="202.4" lengthAdjust="spacing">Addition of sheep red</text>
<text x="264.3" y="779.7" font-size="21" textLength="103.2" lengthAdjust="spacing">blood cells</text>
<text x="489.3" y="746.4" font-size="21" textLength="201.7" lengthAdjust="spacing">Monoclonal antibody</text>
<text x="490.9" y="770.2" font-size="21" textLength="167.2" lengthAdjust="spacing">specific for sheep</text>
<text x="490.9" y="794" font-size="21" textLength="140.2" lengthAdjust="spacing">red blood cells</text>
<path d="M288.2,357.7 L297.2,357.7 M292.7,353 L292.7,362.6" stroke="#111" stroke-width="1.5"/>
<g fill="#a2a2a2" style="stroke:none">
<circle cx="657.5" cy="938.9" r="7" fill="none" stroke="#a2a2a2" stroke-width="1.3"/>
<text x="653.6" y="943.2" font-size="17" style="font-family:'Liberation Serif',serif;font-weight:bold;fill:#a2a2a2;stroke:none">c</text>
<text x="666" y="945.8" font-size="30" textLength="72.5" lengthAdjust="spacingAndGlyphs" style="font-family:'Liberation Serif',serif;font-weight:bold;fill:#a2a2a2;stroke:none">nature</text>
</g>
</svg></body></html>
